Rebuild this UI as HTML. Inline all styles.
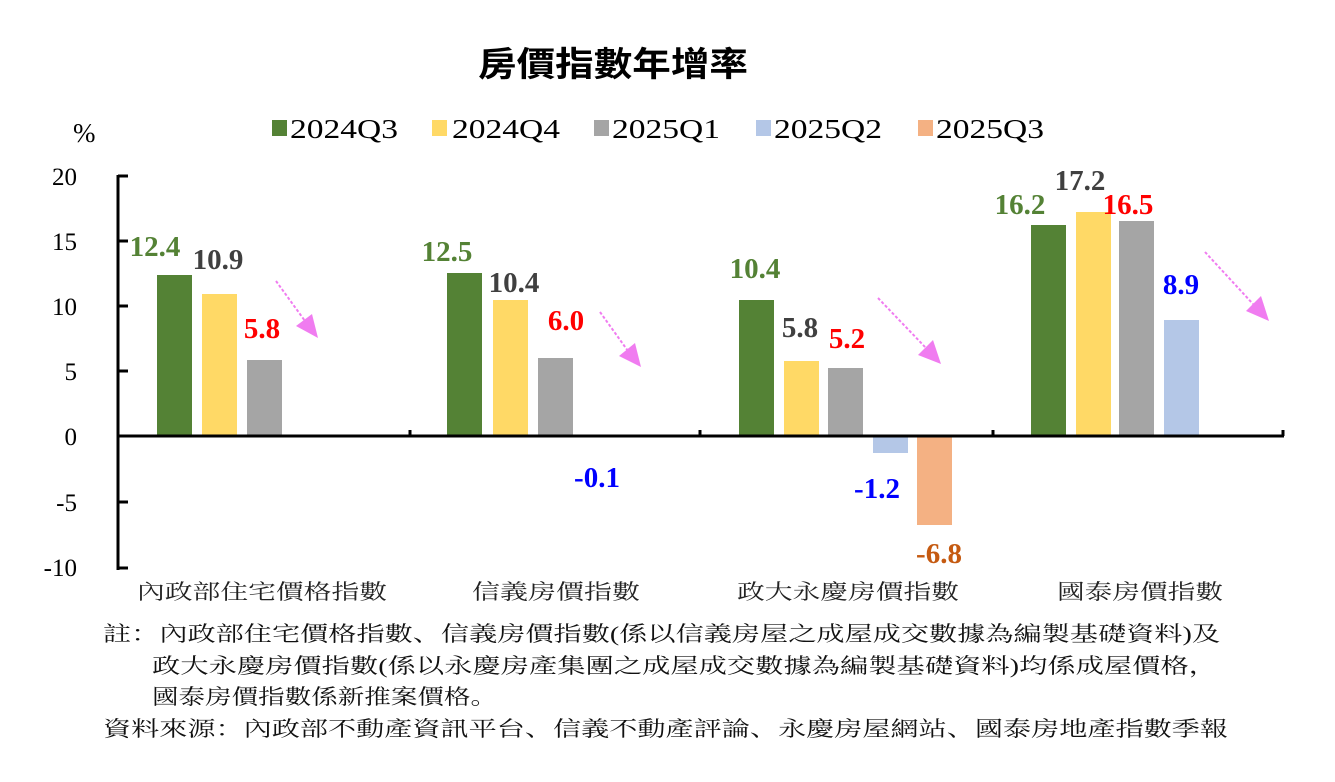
<!DOCTYPE html>
<html><head><meta charset="utf-8"><style>
body{margin:0;background:#fff;}
svg{display:block;}
.s{font-family:"Liberation Serif","Noto Serif CJK SC",serif;}
.v{font-family:"Liberation Serif",serif;font-weight:bold;font-size:29px;text-anchor:middle;}
.c{font-family:"Liberation Serif","Noto Serif CJK SC","Noto Sans CJK TC",serif;font-size:21px;text-anchor:middle;fill:#222;}
.n{font-family:"Liberation Serif","Noto Serif CJK SC","Noto Sans CJK TC",serif;font-size:21px;fill:#111;}
</style></head><body>
<svg width="1335" height="782" xmlns="http://www.w3.org/2000/svg">
<text x="478" y="76" font-family="'Noto Sans CJK TC','Noto Sans CJK SC',sans-serif" font-weight="bold" font-size="34" textLength="270" lengthAdjust="spacingAndGlyphs">房價指數年增率</text>
<text x="73" y="142" class="s" font-size="27">%</text>
<g class="s" font-size="27">
<rect x="272" y="120" width="15" height="16" fill="#548235"/><text x="290" y="138" textLength="108" lengthAdjust="spacingAndGlyphs">2024Q3</text>
<rect x="432" y="120" width="15" height="16" fill="#FFD966"/><text x="452" y="138" textLength="108" lengthAdjust="spacingAndGlyphs">2024Q4</text>
<rect x="594" y="120" width="15" height="16" fill="#A5A5A5"/><text x="612" y="138" textLength="108" lengthAdjust="spacingAndGlyphs">2025Q1</text>
<rect x="756" y="120" width="15" height="16" fill="#B4C7E7"/><text x="774" y="138" textLength="108" lengthAdjust="spacingAndGlyphs">2025Q2</text>
<rect x="918" y="120" width="15" height="16" fill="#F4B183"/><text x="936" y="138" textLength="108" lengthAdjust="spacingAndGlyphs">2025Q3</text>
</g>
<g class="s" font-size="25" text-anchor="end">
<text x="77" y="185">20</text><text x="77" y="250">15</text><text x="77" y="315">10</text><text x="77" y="380">5</text><text x="77" y="445">0</text><text x="77" y="511">-5</text><text x="77" y="576">-10</text>
</g>
<rect x="157" y="275" width="35" height="161" fill="#548235"/>
<rect x="202" y="294" width="35" height="142" fill="#FFD966"/>
<rect x="247" y="360" width="35" height="76" fill="#A5A5A5"/>
<rect x="447" y="273" width="35" height="163" fill="#548235"/>
<rect x="493" y="300" width="35" height="136" fill="#FFD966"/>
<rect x="538" y="358" width="35" height="78" fill="#A5A5A5"/>
<rect x="583" y="436" width="35" height="1.5" fill="#B4C7E7"/>
<rect x="739" y="300" width="35" height="136" fill="#548235"/>
<rect x="784" y="361" width="35" height="75" fill="#FFD966"/>
<rect x="828" y="368" width="35" height="68" fill="#A5A5A5"/>
<rect x="873" y="436" width="35" height="17" fill="#B4C7E7"/>
<rect x="917" y="436" width="35" height="89" fill="#F4B183"/>
<rect x="1031" y="225" width="35" height="211" fill="#548235"/>
<rect x="1076" y="212" width="35" height="224" fill="#FFD966"/>
<rect x="1119" y="221" width="35" height="215" fill="#A5A5A5"/>
<rect x="1164" y="320" width="35" height="116" fill="#B4C7E7"/>
<g stroke="#000" stroke-width="3">
<line x1="118" y1="175" x2="118" y2="570"/>
<line x1="117" y1="436" x2="1284" y2="436"/>
<line x1="118" y1="176" x2="128" y2="176"/><line x1="118" y1="241" x2="128" y2="241"/><line x1="118" y1="306" x2="128" y2="306"/><line x1="118" y1="371" x2="128" y2="371"/><line x1="118" y1="502" x2="128" y2="502"/><line x1="118" y1="568" x2="128" y2="568"/>
<line x1="410" y1="436" x2="410" y2="430"/><line x1="700" y1="436" x2="700" y2="430"/><line x1="993" y1="436" x2="993" y2="430"/><line x1="1283" y1="436" x2="1283" y2="430"/>
</g>
<text class="v" x="155" y="256" fill="#548235">12.4</text>
<text class="v" x="218" y="269" fill="#404040">10.9</text>
<text class="v" x="262" y="338" fill="#FF0000">5.8</text>
<text class="v" x="447" y="261" fill="#548235">12.5</text>
<text class="v" x="514" y="292" fill="#404040">10.4</text>
<text class="v" x="566" y="330" fill="#FF0000">6.0</text>
<text class="v" x="597" y="487" fill="#0000FF">-0.1</text>
<text class="v" x="755" y="278" fill="#548235">10.4</text>
<text class="v" x="800" y="337" fill="#404040">5.8</text>
<text class="v" x="847" y="348" fill="#FF0000">5.2</text>
<text class="v" x="877" y="498" fill="#0000FF">-1.2</text>
<text class="v" x="939" y="563" fill="#C55A11">-6.8</text>
<text class="v" x="1020" y="214" fill="#548235">16.2</text>
<text class="v" x="1080" y="190" fill="#404040">17.2</text>
<text class="v" x="1128" y="214" fill="#FF0000">16.5</text>
<text class="v" x="1181" y="294" fill="#0000FF">8.9</text>
<g stroke="#F07CF0" stroke-width="2" stroke-dasharray="3,2" fill="none">
<line x1="276" y1="281" x2="305" y2="321"/>
<line x1="600" y1="312" x2="628" y2="351"/>
<line x1="878" y1="298" x2="926" y2="348"/>
<line x1="1205" y1="252" x2="1253" y2="304"/>
</g>
<g fill="#F07CF0">
<polygon points="318,338 296,326 312,314"/>
<polygon points="641,367 619,356 635,343"/>
<polygon points="941,364 918,355 933,340"/>
<polygon points="1269,321 1246,311 1261,296"/>
</g>
<text class="c" x="262" y="599" textLength="250" lengthAdjust="spacingAndGlyphs">內政部住宅價格指數</text>
<text class="c" x="556" y="599" textLength="168" lengthAdjust="spacingAndGlyphs">信義房價指數</text>
<text class="c" x="848" y="599" textLength="222" lengthAdjust="spacingAndGlyphs">政大永慶房價指數</text>
<text class="c" x="1140" y="599" textLength="166" lengthAdjust="spacingAndGlyphs">國泰房價指數</text>
<text class="n" x="103" y="641" textLength="1117" lengthAdjust="spacingAndGlyphs">註：內政部住宅價格指數、信義房價指數(係以信義房屋之成屋成交數據為編製基礎資料)及</text>
<text class="n" x="152" y="673" textLength="1065" lengthAdjust="spacingAndGlyphs">政大永慶房價指數(係以永慶房產集團之成屋成交數據為編製基礎資料)均係成屋價格，</text>
<text class="n" x="152" y="704" textLength="345" lengthAdjust="spacingAndGlyphs">國泰房價指數係新推案價格。</text>
<text class="n" x="103" y="736" textLength="1125" lengthAdjust="spacingAndGlyphs">資料來源：內政部不動產資訊平台、信義不動產評論、永慶房屋網站、國泰房地產指數季報</text>
</svg>
</body></html>
